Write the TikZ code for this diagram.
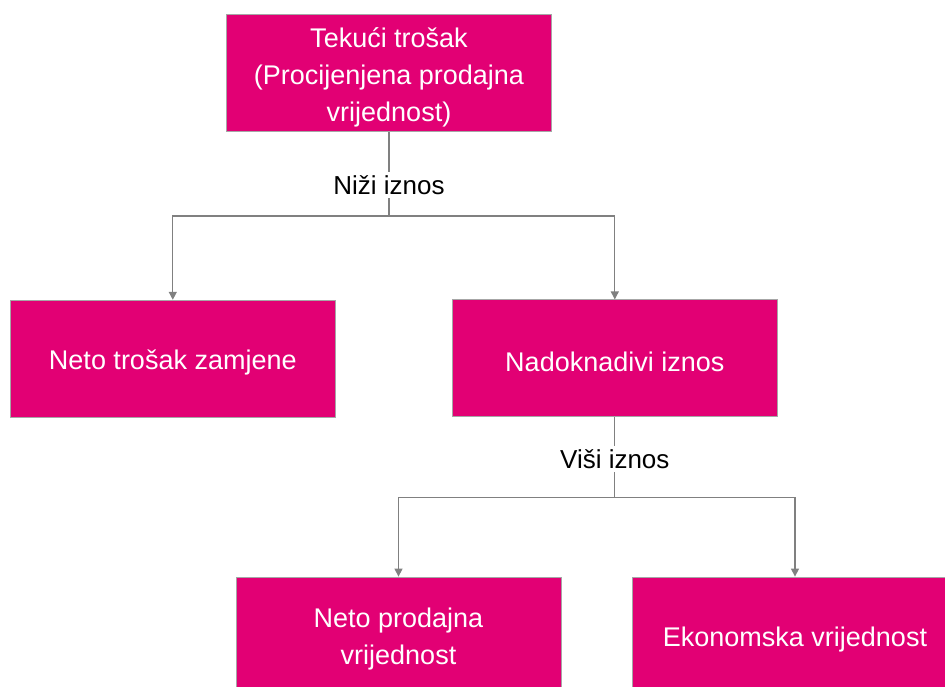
\documentclass[tikz,border=0pt]{standalone}
\usepackage{fontspec}
\setmainfont{Liberation Sans}
\usetikzlibrary{arrows.meta}
\definecolor{tmag}{HTML}{E20074}
\definecolor{lgray}{HTML}{808080}
\definecolor{bgray}{HTML}{A6A6A6}
\tikzset{
  mbox/.style={rectangle, fill=tmag, draw=bgray, line width=0.8pt,
    minimum width=325pt, minimum height=117pt, inner sep=0pt},
  btxt/.style={yshift=-4pt, inner sep=0pt, text=white, align=center,
    font=\fontsize{27}{37}\selectfont},
  lbl/.style={fill=white, inner sep=3pt, text=black, font=\fontsize{26}{30}\selectfont},
  conn/.style={draw=lgray, line width=1.3pt},
  arr/.style={conn, -{Triangle[length=8pt,width=8pt]}}
}
\begin{document}
\begin{tikzpicture}[x=1pt,y=-1pt]
\useasboundingbox (0,0) rectangle (945,686);
\clip (0,0) rectangle (945,686);
\node[mbox, label={[btxt]center:Tekući trošak\\(Procijenjena prodajna\\vrijednost)}] (b1) at (389,73.3) {};
\node[mbox, label={[btxt]center:Neto trošak zamjene}] (b2) at (172.8,358.7) {};
\node[mbox, label={[btxt]center:Nadoknadivi iznos}] (b3) at (614.8,358.3) {};
\node[mbox, label={[btxt]center:Neto prodajna\\vrijednost}] (b4) at (398.5,635.5) {};
\node[mbox, label={[btxt]center:Ekonomska vrijednost}] (b5) at (795,635.5) {};
\coordinate (j1) at (389,216);
\coordinate (j2) at (614.8,497.3);
\draw[conn] (b1.south) -- (j1);
\draw[arr] (j1) -| (b2.north);
\draw[arr] (j1) -| (b3.north);
\draw[conn] (b3.south) -- (j2);
\draw[arr] (j2) -| (b4.north);
\draw[arr] (j2) -| (b5.north);
\node[lbl] (l1) at (389,185) {Niži iznos};
\node[lbl] (l2) at (614.8,459) {Viši iznos};
\end{tikzpicture}
\end{document}
